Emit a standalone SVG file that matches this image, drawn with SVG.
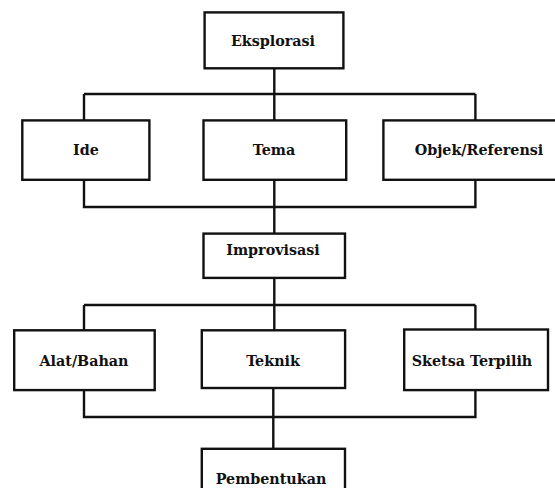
<svg xmlns="http://www.w3.org/2000/svg" width="555" height="488" viewBox="0 0 555 488">
<style>
.box{fill:#fff;stroke:#111;stroke-width:2.4}
.lbl{font-family:"DejaVu Serif","Liberation Serif",serif;font-weight:bold;font-size:14.3px;fill:#111;text-anchor:middle}
.con{fill:none;stroke:#111;stroke-width:2.4}
</style>
<rect width="555" height="488" fill="#fff"/>
<g id="connectors">
<path class="con" d="M274.3 68 V94 M84 94 H475.4 M84 94 V120.4 M274.3 94 V120.4 M475.4 94 V120.4"/>
<path class="con" d="M84 180 V207 H475.4 V180 M274.3 180 V233.6"/>
<path class="con" d="M274.3 278 V305 M84 305 H475.4 M84 305 V330.3 M274.3 305 V330.3 M475.4 305 V330"/>
<path class="con" d="M84 390 V417 H475.4 V390 M273.3 388 V449"/>
</g>
<g id="n-eksplorasi"><rect class="box" x="204.6" y="12.4" width="138.8" height="55.9"/><text class="lbl" x="273" y="45.5">Eksplorasi</text></g>
<g id="n-ide"><rect class="box" x="22.3" y="120.4" width="127.1" height="59.4"/><text class="lbl" x="86" y="154.5">Ide</text></g>
<g id="n-tema"><rect class="box" x="203.5" y="120.4" width="142.7" height="59.4"/><text class="lbl" x="274" y="154.5">Tema</text></g>
<g id="n-objek"><rect class="box" x="383.4" y="120.4" width="180" height="59.4"/><text class="lbl" x="479" y="154.5">Objek/Referensi</text></g>
<g id="n-improvisasi"><rect class="box" x="203.5" y="233.6" width="141.5" height="44.3"/><text class="lbl" x="273" y="254.5">Improvisasi</text></g>
<g id="n-alat"><rect class="box" x="14.2" y="330.3" width="140.5" height="59.8"/><text class="lbl" x="84" y="366">Alat/Bahan</text></g>
<g id="n-teknik"><rect class="box" x="201.8" y="330.3" width="143.3" height="57.7"/><text class="lbl" x="273" y="366">Teknik</text></g>
<g id="n-sketsa"><rect class="box" x="404.2" y="329.5" width="143.8" height="60.6"/><text class="lbl" x="472" y="366">Sketsa Terpilih</text></g>
<g id="n-pembentukan"><rect class="box" x="201.8" y="448.8" width="143.2" height="50"/><text class="lbl" x="271" y="484">Pembentukan</text></g>
</svg>
